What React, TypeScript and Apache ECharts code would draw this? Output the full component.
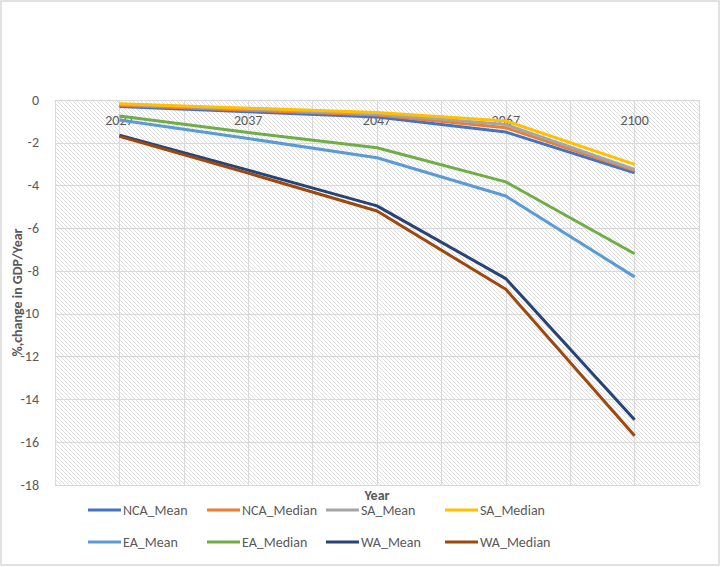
import React, { useEffect, useRef } from "react";
import * as echarts from "echarts";

const years = ["2027", "2037", "2047", "2067", "2100"];
const NCA_Mean = [-0.3, -0.55, -0.8, -1.5, -3.4];
const NCA_Median = [-0.25, -0.48, -0.7, -1.3, -3.3];
const SA_Mean = [-0.2, -0.42, -0.65, -1.15, -3.25];
const SA_Median = [-0.17, -0.38, -0.59, -0.98, -3.01];
const EA_Mean = [-0.93, -1.8, -2.7, -4.49, -8.27];
const EA_Median = [-0.75, -1.52, -2.23, -3.83, -7.19];
const WA_Mean = [-1.65, -3.28, -4.95, -8.35, -14.95];
const WA_Median = [-1.7, -3.42, -5.19, -8.85, -15.7];
const yTicks = { min: -18, max: 0, interval: 2 };

const seriesDefs = [
  { name: "NCA_Mean", data: NCA_Mean, color: "#4472C4" },
  { name: "NCA_Median", data: NCA_Median, color: "#ED7D31" },
  { name: "SA_Mean", data: SA_Mean, color: "#A5A5A5" },
  { name: "SA_Median", data: SA_Median, color: "#FFC000" },
  { name: "EA_Mean", data: EA_Mean, color: "#5B9BD5" },
  { name: "EA_Median", data: EA_Median, color: "#70AD47" },
  { name: "WA_Mean", data: WA_Mean, color: "#264478" },
  { name: "WA_Median", data: WA_Median, color: "#9E480E" },
];

const FONT = "Carlito, Calibri, 'Noto Sans', sans-serif";
const GRAY = "#595959";
const GRID = "#d9d9d9";

const tile =
  "data:image/svg+xml;utf8," +
  encodeURIComponent(
    "<svg xmlns='http://www.w3.org/2000/svg' width='4' height='4'><rect width='4' height='4' fill='#ffffff'/><path d='M-1,-1 L5,5 M-1,3 L1,5 M3,-1 L5,1' stroke='#dedede' stroke-width='1'/></svg>"
  );

export default function App() {
  const ref = useRef<HTMLDivElement>(null);
  useEffect(() => {
    if (!ref.current) return;
    const chart = echarts.init(ref.current, null, { renderer: "svg" });
    const gl = 55, gt = 100, gw = 644, gh = 385;
    const legendX = [88, 207, 326, 445];
    const legendY = [503, 535];
    const legends = seriesDefs.map((s, i) => ({
      show: true,
      data: [s.name],
      left: legendX[i % 4],
      top: legendY[Math.floor(i / 4)],
      padding: 0,
      icon: "rect",
      itemWidth: 33,
      itemHeight: 3,
      itemGap: 0,
      textStyle: { color: GRAY, fontSize: 14, fontFamily: FONT, padding: [0, 0, 0, -3] },
    }));
    chart.setOption({
      animation: false,
      backgroundColor: "#ffffff",
      grid: {
        left: gl,
        top: gt,
        width: gw,
        height: gh,
        containLabel: false,
        outerBoundsMode: "none",
      },
      graphic: [
        {
          type: "rect",
          z: -10,
          silent: true,
          shape: { x: gl, y: gt, width: gw, height: gh },
          style: {
            fill: { image: tile, repeat: "repeat", imageWidth: 4, imageHeight: 4 } as any,
          },
        },
        {
          type: "rect",
          z: -20,
          silent: true,
          shape: { x: 1, y: 1, width: 718, height: 564 },
          style: { fill: "none", stroke: GRID, lineWidth: 1.5 },
        },
        {
          type: "text",
          x: gl + gw / 2,
          y: 495,
          silent: true,
          style: {
            text: "Year",
            fill: GRAY,
            font: `bold 14px ${FONT}`,
            textAlign: "center",
            textVerticalAlign: "middle",
          } as any,
        },
      ],
      legend: legends,
      xAxis: [
        {
          type: "category",
          data: years,
          position: "top",
          boundaryGap: true,
          axisLine: { show: true, onZero: false, lineStyle: { color: GRID } },
          axisTick: { show: false },
          axisLabel: { color: GRAY, fontSize: 14, fontFamily: FONT, inside: true, margin: 13 },
          splitLine: { show: false },
        },
        {
          type: "value",
          min: 0,
          max: 10,
          interval: 1,
          show: true,
          position: "bottom",
          axisLine: { show: false, onZero: false },
          axisTick: { show: false },
          axisLabel: { show: false },
          splitLine: { show: true, lineStyle: { color: GRID, width: 1 } },
        },
      ],
      yAxis: {
        type: "value",
        min: yTicks.min,
        max: yTicks.max,
        interval: yTicks.interval,
        axisLine: { show: false, onZero: false },
        axisTick: { show: false },
        axisLabel: { color: GRAY, fontSize: 14, fontFamily: FONT, margin: 16 },
        splitLine: { show: true, lineStyle: { color: GRID, width: 1 } },
        name: "%,change in GDP/Year",
        nameLocation: "middle",
        nameGap: 31,
        nameMoveOverlap: false,
        nameTextStyle: { color: GRAY, fontSize: 14, fontWeight: "bold", fontFamily: FONT },
      },
      series: seriesDefs.map((s) => ({
        name: s.name,
        type: "line",
        xAxisIndex: 0,
        data: s.data,
        symbol: "none",
        color: s.color,
        lineStyle: { color: s.color, width: 3 },
      })),
    });
    return () => chart.dispose();
  }, []);
  return (
    <div
      ref={ref}
      style={{ position: "fixed", left: 0, top: 0, width: 721, height: 567 }}
    />
  );
}
